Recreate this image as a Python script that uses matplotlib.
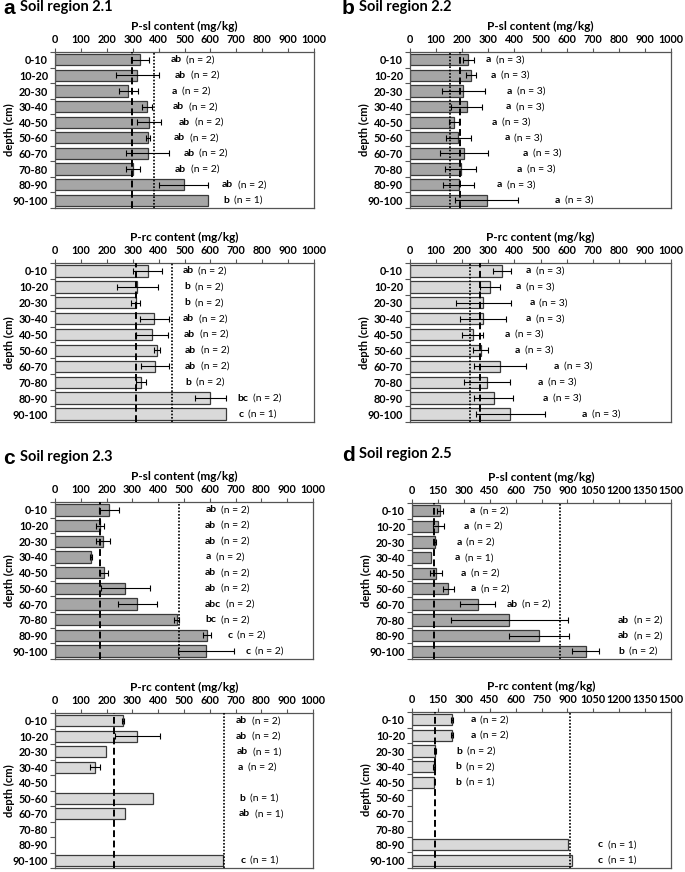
import numpy as np
import matplotlib.pyplot as plt

plt.rcParams['font.family'] = ['Lato', 'DejaVu Sans']

W, H = 685, 872
nan = np.nan

depths = ["0-10", "10-20", "20-30", "30-40", "40-50", "50-60",
          "60-70", "70-80", "80-90", "90-100"]

# --- panel a: soil region 2.1 ---
a_sl = [329, 318, 283, 355, 363, 358, 358, 301, 497, 592]
a_sl_err = [35, 83, 37, 21, 46, 8, 82, 28, 95, nan]
a_sl_sig = ["ab", "ab", "a", "ab", "ab", "ab", "ab", "ab", "ab", "b"]
a_sl_n = [2, 2, 2, 2, 2, 2, 2, 2, 2, 1]
a_sl_ref = (297, 382)  # dashed, dotted

a_rc = [358, 318, 311, 384, 373, 395, 386, 332, 600, 659]
a_rc_err = [55, 78, 17, 55, 62, 12, 55, 18, 59, nan]
a_rc_sig = ["ab", "b", "b", "ab", "ab", "ab", "ab", "b", "bc", "c"]
a_rc_n = [2, 2, 2, 2, 2, 2, 2, 2, 2, 1]
a_rc_ref = (311, 453)

# --- panel b: soil region 2.2 ---
b_sl = [224, 233, 204, 217, 169, 185, 208, 194, 187, 294]
b_sl_err = [22, 19, 83, 59, 20, 47, 92, 60, 60, 121]
b_sl_sig = ["a"] * 10
b_sl_n = [3] * 10
b_sl_ref = (192, 153)

b_rc = [352, 307, 281, 281, 240, 271, 346, 294, 320, 385]
b_rc_err = [35, 37, 106, 88, 39, 29, 99, 89, 75, 132]
b_rc_sig = ["a"] * 10
b_rc_n = [3] * 10
b_rc_ref = (268, 228)

# --- panel c: soil region 2.3 ---
c_sl = [209, 174, 187, 138, 191, 272, 319, 471, 590, 585]
c_sl_err = [40, 14, 27, 4, 15, 95, 75, 11, 15, 107]
c_sl_sig = ["ab", "ab", "ab", "a", "ab", "ab", "abc", "bc", "c", "c"]
c_sl_n = [2] * 10
c_sl_ref = (174, 481)

c_rc = [264, 319, 196, 154, nan, 381, 270, nan, nan, 652]
c_rc_err = [3, 87, nan, 19, nan, nan, nan, nan, nan, nan]
c_rc_sig = ["ab", "ab", "ab", "a", None, "b", "ab", None, None, "c"]
c_rc_n = [2, 2, 1, 2, None, 1, 1, None, None, 1]
c_rc_ref = (229, 655)

# --- panel d: soil region 2.5 ---
d_sl = [162, 153, 133, 110, 139, 210, 380, 564, 737, 1006]
d_sl_err = [16, 32, 4, nan, 36, 33, 103, 340, 173, 77]
d_sl_sig = ["a", "a", "a", "a", "a", "a", "ab", "ab", "ab", "b"]
d_sl_n = [2, 2, 2, 1, 2, 2, 2, 2, 2, 2]
d_sl_ref = (129, 857)

d_rc = [232, 232, 135, 127, 127, nan, nan, nan, 903, 927]
d_rc_err = [6, 6, 3, 5, nan, nan, nan, nan, nan, nan]
d_rc_sig = ["a", "a", "b", "b", "b", None, None, None, "c", "c"]
d_rc_n = [2, 2, 2, 2, 1, None, None, None, 1, 1]
d_rc_ref = (131, 917)

# where the significance labels start (x in data units), layout only
a_sl_lab = [445, 464, 451, 454, 477, 460, 496, 462, 644, 650]
a_rc_lab = [492, 498, 498, 494, 497, 501, 501, 504, 703, 709]
b_sl_lab = [291, 310, 370, 368, 313, 361, 432, 409, 332, 556]
b_rc_lab = [444, 406, 457, 444, 364, 403, 551, 490, 508, 658]
c_sl_lab = [583, 581, 581, 583, 581, 581, 581, 583, 668, 738]
c_rc_lab = [700, 700, 705, 709, nan, 713, 712, nan, nan, 718]
d_sl_lab = [335, 302, 257, 248, 282, 340, 547, 1191, 1191, 1195]
d_rc_lab = [338, 338, 255, 251, 251, nan, nan, nan, 1077, 1077]

SL_COLOR = "#a6a6a6"
RC_COLOR = "#d9d9d9"


def px_axes(fig, left, top, right, bottom):
    return fig.add_axes([left / W, 1 - bottom / H, (right - left) / W, (bottom - top) / H])


def draw_panel(ax, vals, errs, sig, ns, ref, lab_x, color, xlabel, xmax, step, width_px):
    y = np.arange(len(depths))
    vals = np.array(vals, dtype=float)
    errs = np.array(errs, dtype=float)
    ok = ~np.isnan(vals)
    ax.barh(y[ok], vals[ok], height=0.72, color=color, edgecolor="#3a3a3a",
            linewidth=0.9, zorder=2)
    eok = ok & ~np.isnan(errs)
    ax.errorbar(vals[eok], y[eok], xerr=errs[eok], fmt="none", ecolor="black",
                elinewidth=0.8, capsize=2, capthick=0.8, zorder=4)
    ax.axvline(ref[0], color="black", lw=1.4, ls=(0, (3.5, 1.8)), zorder=3)
    ax.axvline(ref[1], color="black", lw=1.2, ls=(0, (1, 1)), zorder=3)

    for i in range(len(depths)):
        if sig[i] is None:
            continue
        t = ax.text(lab_x[i], y[i], sig[i], fontsize=7.5, fontweight="bold",
                    va="center", ha="left", zorder=5)
        ax.annotate(f"(n = {ns[i]})", xy=(1, 0.5), xycoords=t, xytext=(3.5, 0),
                    textcoords="offset points", fontsize=7.5, va="center", ha="left")

    ax.set_xlim(0, xmax)
    ax.set_ylim(len(depths) - 0.5, -0.5)
    ax.set_xticks(np.arange(0, xmax + 1, step))
    ax.xaxis.tick_top()
    ax.xaxis.set_label_position("top")
    ax.set_xlabel(xlabel, fontsize=8.5, fontweight="bold", labelpad=3)
    ax.tick_params(axis="x", direction="out", length=3, width=0.8, pad=2,
                   labelsize=7.8, colors="#555555", labelcolor="black")
    for lbl in ax.get_xticklabels():
        lbl.set_fontweight("bold")

    ax.set_yticks(y)
    ax.set_yticklabels(depths, fontsize=7.8, fontweight="bold")
    ax.set_yticks(np.arange(-0.5, len(depths), 1), minor=True)
    ax.tick_params(axis="y", which="major", length=0, pad=5)
    ax.tick_params(axis="y", which="minor", length=3.5, width=0.8, color="#555555")
    ax.set_ylabel("depth (cm)", fontsize=8, fontweight="bold", va="center")
    ax.yaxis.set_label_coords(-46 / width_px, 0.5)
    for s in ax.spines.values():
        s.set_color("#555555")
        s.set_linewidth(0.9)


fig = plt.figure(figsize=(W / 100, H / 100), dpi=100)

panels = [
    ("a", "Soil region 2.1", (55, 314), (52, 208), (263, 422), 1000, 100,
     (a_sl, a_sl_err, a_sl_sig, a_sl_n, a_sl_ref, a_sl_lab),
     (a_rc, a_rc_err, a_rc_sig, a_rc_n, a_rc_ref, a_rc_lab), (3, 8)),
    ("b", "Soil region 2.2", (410, 671), (52, 208), (263, 422), 1000, 100,
     (b_sl, b_sl_err, b_sl_sig, b_sl_n, b_sl_ref, b_sl_lab),
     (b_rc, b_rc_err, b_rc_sig, b_rc_n, b_rc_ref, b_rc_lab), (342, 8)),
    ("c", "Soil region 2.3", (55, 313), (502, 659), (713, 868), 1000, 100,
     (c_sl, c_sl_err, c_sl_sig, c_sl_n, c_sl_ref, c_sl_lab),
     (c_rc, c_rc_err, c_rc_sig, c_rc_n, c_rc_ref, c_rc_lab), (3, 458)),
    ("d", "Soil region 2.5", (412, 671), (503, 659), (712, 868), 1500, 150,
     (d_sl, d_sl_err, d_sl_sig, d_sl_n, d_sl_ref, d_sl_lab),
     (d_rc, d_rc_err, d_rc_sig, d_rc_n, d_rc_ref, d_rc_lab), (342, 455)),
]

for letter, name, (x0, x1), (t1, b1), (t2, b2), xmax, step, sl, rc, (tx, ty) in panels:
    ax1 = px_axes(fig, x0, t1, x1, b1)
    draw_panel(ax1, *sl, SL_COLOR, "P-sl content (mg/kg)", xmax, step, x1 - x0)
    ax2 = px_axes(fig, x0, t2, x1, b2)
    draw_panel(ax2, *rc, RC_COLOR, "P-rc content (mg/kg)", xmax, step, x1 - x0)
    fig.text(tx / W, 1 - ty / H, letter, fontsize=15, fontweight="bold",
             va="center", ha="left", family=["Liberation Sans", "DejaVu Sans"])
    fig.text((tx + 17) / W, 1 - (ty - 1) / H, name, fontsize=10.5, fontweight="bold",
             va="center", ha="left")

fig.savefig("out.png", dpi=100)
